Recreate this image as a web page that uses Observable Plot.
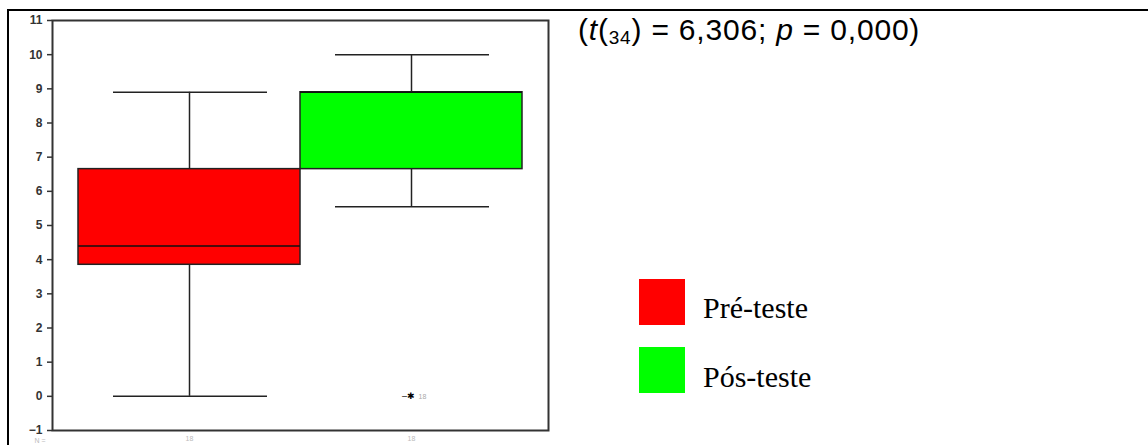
<!DOCTYPE html>
<html>
<head>
<meta charset="utf-8">
<script src="https://cdn.jsdelivr.net/npm/d3@7"></script>
<script src="https://cdn.jsdelivr.net/npm/@observablehq/plot@0.6"></script>
<style>
  html, body { margin: 0; padding: 0; background: #fff; }
  #page { position: relative; width: 1148px; height: 445px; overflow: hidden; background: #fff; }
  #chart { position: absolute; left: 0; top: 0; }
  .line { position: absolute; background: #000; }
  #stat { position: absolute; left: 578px; top: 13px; font-family: "Liberation Sans", Arial, sans-serif; font-size: 30px; line-height: 34px; color: #000; white-space: nowrap; letter-spacing: 0.8px; }
  #stat sub { font-size: 19px; vertical-align: -4px; line-height: 0; }
  .leg { position: absolute; left: 639px; width: 46px; height: 46px; }
  .legtxt { position: absolute; left: 703px; font-family: "Liberation Serif", "Times New Roman", serif; font-size: 30px; line-height: 34px; color: #000; white-space: nowrap; }
</style>
</head>
<body>
<div id="page">
  <div id="chart"></div>
  <div class="line" style="left:7px; top:9px; width:1141px; height:2px;"></div>
  <div class="line" style="left:7px; top:9px; width:2px; height:436px;"></div>
  <div id="stat">(<i>t</i>(<sub>34</sub>) = 6,306; <i>p</i> = 0,000)</div>
  <div class="leg" style="top:279px; background:#ff0000;"></div>
  <div class="legtxt" style="top:291px;">Pré-teste</div>
  <div class="leg" style="top:347px; background:#00ff00;"></div>
  <div class="legtxt" style="top:360px;">Pós-teste</div>
</div>
<script>
// Data
const groups = ["Pré-teste", "Pós-teste"];
const colors = ["#ff0000", "#00ff00"];
const whiskerLow = [0, 5.55];
const q1 = [3.85, 6.65];
const median = [4.4, 8.9];
const q3 = [6.65, 8.9];
const whiskerHigh = [8.9, 10];
const nCounts = [18, 18];
const outlierGroup = ["Pós-teste"];
const outlierValue = [0];
const outlierLabel = ["18"];
const yTicks = [-1, 0, 1, 2, 3, 4, 5, 6, 7, 8, 9, 10, 11];

const boxes = groups.map((g, i) => ({
  g, color: colors[i], lo: whiskerLow[i], q1: q1[i], med: median[i], q3: q3[i], hi: whiskerHigh[i], n: nCounts[i]
}));
const outliers = outlierGroup.map((g, i) => ({ g, v: outlierValue[i], label: outlierLabel[i] }));

const plot = Plot.plot({
  width: 560,
  height: 445,
  marginLeft: 52,
  marginRight: 12,
  marginTop: 20,
  marginBottom: 15,
  style: { fontFamily: "Liberation Sans, Arial, sans-serif", fontSize: "12px", background: "transparent" },
  x: { type: "band", domain: groups, paddingInner: 0, paddingOuter: 0.117, axis: null },
  y: { domain: [-1, 11], axis: null },
  marks: [
    // whiskers
    Plot.ruleX(boxes, { x: "g", y1: "lo", y2: "q1", stroke: "#222", strokeWidth: 1.5 }),
    Plot.ruleX(boxes, { x: "g", y1: "q3", y2: "hi", stroke: "#222", strokeWidth: 1.5 }),
    Plot.tickY(boxes, { x: "g", y: "lo", stroke: "#222", strokeWidth: 1.5, insetLeft: 35, insetRight: 33 }),
    Plot.tickY(boxes, { x: "g", y: "hi", stroke: "#222", strokeWidth: 1.5, insetLeft: 35, insetRight: 33 }),
    // boxes
    Plot.barY(boxes, { x: "g", y1: "q1", y2: "q3", fill: "color", stroke: "#222", strokeWidth: 1.5 }),
    Plot.tickY(boxes, { x: "g", y: "med", stroke: "#111", strokeWidth: 1.5 }),
    // outliers
    Plot.text(outliers, { x: "g", y: "v", text: () => "–✱", fontSize: 9, fill: "#000", dx: -3 }),
    Plot.text(outliers, { x: "g", y: "v", text: "label", fontSize: 7, fill: "#aaa", dx: 11 }),
    // frame and axes
    Plot.frame({ stroke: "#333", strokeWidth: 2 }),
    Plot.axisY({ ticks: yTicks, label: null, tickSize: 5, tickPadding: 5, fontSize: 12, fontWeight: "bold", fill: "#333", stroke: "#333", strokeWidth: 1.5 }),
    Plot.axisX({ label: null, tickSize: 0, tickPadding: 6, fontSize: 7, fill: "#bbb", tickFormat: (d) => String(boxes.find(b => b.g === d).n) }),
    Plot.text(["N ="], { frameAnchor: "bottom-left", text: (d) => d, fontSize: 7, fill: "#bbb", textAnchor: "start", dx: -18, dy: 12 })
  ]
});
document.getElementById("chart").appendChild(plot);
</script>
</body>
</html>
